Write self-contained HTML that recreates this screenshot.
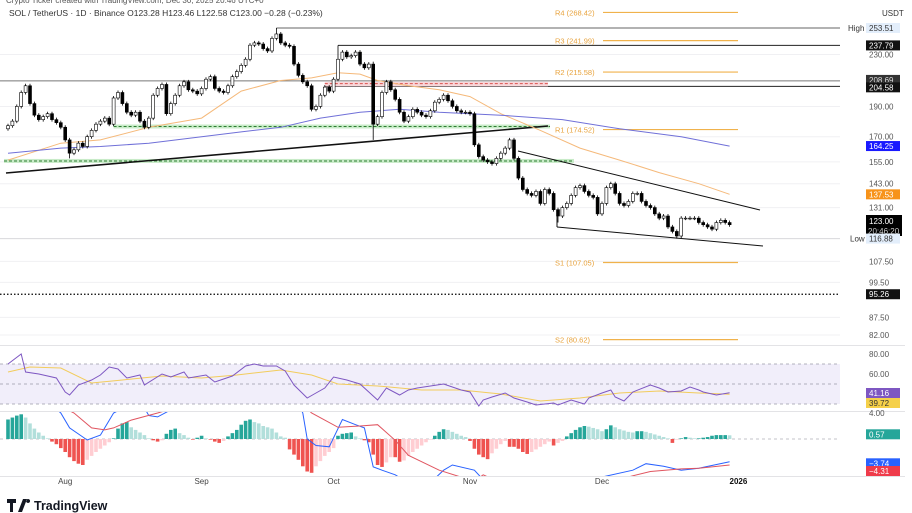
<!DOCTYPE html>
<html><head><meta charset="utf-8"><style>
html,body{margin:0;padding:0;background:#fff;}
svg{display:block;font-family:"Liberation Sans",sans-serif;}
</style></head><body>
<svg id="chart" width="912" height="513" viewBox="0 0 912 513" xmlns="http://www.w3.org/2000/svg">
<text x="6" y="3" font-size="8" fill="#555">Crypto Ticker created with TradingView.com, Dec 30, 2025 20:46 UTC+0</text>
<text x="9" y="16" font-size="8.5" fill="#333">SOL / TetherUS · 1D · Binance  O123.28  H123.46  L122.58  C123.00  −0.28 (−0.23%)</text>
<g id="grid"></g>
<g id="levels"></g>
<g id="ma"></g>
<g id="candles"></g>
<g id="rsi"></g>
<g id="macd"></g>
<g id="axis"></g>
<g id="xaxis"></g>
<g>
<path d="M7 499h9v4h-3v9h-3v-9h-3z M18 512l5-13h4l-5 13z M28 499a2 2 0 1 0 0.1 0z" fill="#131722"/>
<text x="34" y="510" font-size="12.5" font-weight="bold" fill="#131722">TradingView</text>
</g>
</svg>
<script>
const closes=[177,180,190,200,205,192,184,181,183,185,181,179,176,168,160,162,166,164,170,174,178,180,182,178,196,200,192,186,184,186,180,176,182,198,203,206,185,192,198,205,208,202,201,199,203,210,212,203,201,200,205,212,216,221,226,238,240,239,235,233,244,248,240,238,237,222,213,208,205,188,190,198,204,201,210,226,232,228,229,232,222,219,222,178,183,200,208,202,195,186,180,183,188,186,184,183,187,193,195,198,194,190,187,186,186,185,165,158,156,155,154,157,160,163,168,157,146,140,138,137,139,133,140,138,130,127,131,133,137,141,142,139,137,136,128,133,141,143,138,133,132,134,138,138,134,132,131,128,126,127,122,120,118,126,126,126,126,124,123,122,121,124,125,124,123];
const firstOpen=175;
const wickHighIdx=[61,75,83];
const wickHighVal=[253.51,237.79,224];
const wickLowIdx=[83,14,152,125];
const wickLowVal=[168,157,116.88,124];
const ma50Idx=[0,12,21,32,44,53,62,69,75,80,84,91,98,105,112,121,130,139,148,157,164];
const ma50Val=[156,166,168,176,182,201,209,211,215,214,209,205,202,197,185,174,163,156,149,143,137.53];
const ma200Idx=[0,12,21,32,44,53,62,71,80,89,98,105,112,126,139,153,164];
const ma200Val=[160,163,164,166,170,173,176,182,186,188,186,185,184,181,175,170,164.25];
const rsiIdx=[0,3,4,7,11,13,14,16,19,21,23,25,27,30,31,35,37,40,41,45,47,51,54,56,58,61,63,65,68,70,72,74,77,80,84,86,89,91,93,99,103,105,107,108,110,113,115,118,120,124,125,128,131,132,135,137,138,140,142,146,148,150,153,155,157,158,161,164];
const rsiVal=[70,80,62,60,56,42,39,49,54,59,67,65,56,59,49,60,57,62,56,59,52,58,68,70,68,68,63,49,36,41,46,57,54,50,34,46,39,44,46,50,44,42,28,34,37,41,36,32,29,31,29,34,30,36,41,44,37,33,42,49,46,42,43,47,44,42,39,41.16];
const rsiMaIdx=[0,5,12,19,26,35,44,52,62,69,75,84,94,103,112,121,130,139,148,157,164];
const rsiMaVal=[62,67,66,51,54,58,56,59,64,59,50,48,44,44,40,33,36,41,43,41,39.72];
const hist=[3,3.3,3.6,3.8,3.3,2.4,1.6,1,0.5,0.1,-0.4,-0.8,-1.4,-2,-2.8,-3.4,-3.8,-4,-3.2,-2.6,-2,-1.5,-1,-0.5,0.1,1.6,2.4,2.6,1.8,1.4,1,0.6,0.1,-0.2,-0.4,-0.2,0.8,1.4,1.6,0.9,0.6,0.2,-0.1,0.2,0.5,0.1,-0.1,-0.4,-0.6,-0.3,0.4,0.9,1.4,2.2,2.8,3,2.6,2.4,2,1.8,1.6,1,0.4,0.2,-1.6,-2.4,-3.2,-4.2,-5,-5.2,-4.2,-3.4,-2.6,-2,-1.4,0.5,0.8,0.9,1,0.4,0.1,-0.2,-0.5,-2.4,-4,-4.3,-3.6,-2.8,-2.8,-3.5,-3.3,-2.6,-2,-1.5,-1,-0.5,-0.1,0.5,1.1,1.5,1.4,1.1,0.8,0.5,0.3,-0.3,-1.5,-2.4,-2.8,-3.1,-2.2,-1.5,-0.8,-0.3,-1.2,-1.2,-1.5,-2,-2.3,-2,-1.6,-1.2,-0.8,-0.4,-1,-0.6,-0.3,0.4,0.9,1.4,1.8,2,1.9,1.7,1.5,1.2,1.5,2.1,1.8,1.5,1.3,1.1,1,1.2,1.2,1.1,0.9,0.7,0.5,0.3,0.1,-0.6,-0.1,0.1,0.3,0.2,0.1,0.1,0.2,0.3,0.5,0.6,0.6,0.6,0.57];
const macdIdx=[0,7,12,14,18,21,24,30,32,34,44,55,64,67,68,70,73,76,79,81,83,85,88,94,99,101,106,109,116,125,134,142,145,149,153,157,164];
const macdVal=[9,7,4,1.7,-0.15,0.6,4,6,3.6,3.4,7,10,8,4,0,-1,-1.2,3,2.2,1.7,-4.3,-4.8,-5.5,-8,-4.8,-4,-4.8,-7,-9,-8,-6,-4.8,-3.8,-4.2,-4.8,-4.5,-3.5];
const sigIdx=[0,12,15,19,22,24,28,34,44,57,66,69,75,80,84,88,91,98,106,108,116,134,146,153,157,164];
const sigVal=[8,5,4,1.7,1.4,1.7,2.9,4,6,8,6,4,1.8,2,2.2,-0.2,-2.5,-4.8,-6.5,-5.5,-8,-7,-5,-4.6,-4.5,-4];
const priceTicks=["230.00","190.00","170.00","155.00","143.00","131.00","107.50","99.50","87.50","82.00"];
const pivotNames=["R4","R3","R2","R1","S1","S2"];
const pivotVals=[268.42,241.99,215.58,174.52,107.05,80.62];
const monthLabels=["Aug","Sep","Oct","Nov","Dec","2026"];
const monthIdx=[13,44,74,105,135,166];

const NS="http://www.w3.org/2000/svg";
function mk(tag,attrs,parent,txt){const e=document.createElementNS(NS,tag);for(const k in attrs)e.setAttribute(k,attrs[k]);if(txt!==undefined)e.textContent=txt;parent.appendChild(e);return e;}
const X=i=>8+4.4*i;
const LTOP=Math.log(253.51);
const Y=p=>28+(LTOP-Math.log(p))*272;
const RY=v=>434-v;
const MY=v=>439-v*6.5;
const G=id=>document.getElementById(id);
const grid=G('grid'),lev=G('levels'),ma=G('ma'),cg=G('candles'),rg=G('rsi'),mg=G('macd'),ax=G('axis'),xg=G('xaxis');

priceTicks.forEach(t=>{const l=mk('line',{x1:0,x2:840,y1:Y(+t),y2:Y(+t),stroke:'#f0f0f3','stroke-width':1},grid);

});
mk('line',{x1:0,x2:905,y1:345.5,y2:345.5,stroke:'#e3e3e6'},grid);
mk('line',{x1:0,x2:905,y1:411.5,y2:411.5,stroke:'#e3e3e6'},grid);
mk('line',{x1:0,x2:905,y1:476.5,y2:476.5,stroke:'#e3e3e6'},grid);

function hl(x1,x2,p,stroke,w,dash,name){const e=mk('line',{x1:x1,x2:x2,y1:Y(p),y2:Y(p),stroke:stroke,'stroke-width':w},lev);if(dash)e.setAttribute('stroke-dasharray',dash);

return e;}
hl(0,840,116.88,'#d8d8dc',1,null,'low-line');
hl(0,840,95.26,'#000',1.2,'1.5 2','level-95-26');
hl(X(61),840,253.51,'#666',1,null,'high-line');
hl(X(75),840,237.79,'#222',1,null,'level-237-79');
hl(0,840,208.69,'#777',1,null,'level-208-69');
hl(X(72),840,204.58,'#222',1,null,'level-204-58');
const rz=mk('rect',{x:X(72),y:Y(208.69)+1,width:548-X(72),height:Y(204.58)-Y(208.69)-1,fill:'#f8d7da'},lev);


hl(X(72),548,206.6,'#d9534f',1,'3 2','resistance-zone-mid');
const gz1=mk('rect',{x:X(24),y:Y(176.5)-2,width:550-X(24),height:4,fill:'#c8ebc8'},lev);


hl(X(24),550,176.5,'#2e7d32',1,'3 2','support-zone-upper-line');
const gz2=mk('rect',{x:4,y:Y(155.5)-2,width:570,height:4,fill:'#c8ebc8'},lev);


hl(4,574,155.5,'#2e7d32',1,'3 2','support-zone-lower-line');
function tl(x1,y1,x2,y2,w,name){const e=mk('line',{x1:x1,y1:y1,x2:x2,y2:y2,stroke:'#111','stroke-width':w},lev);

}
tl(6,173,548,126,1.6,'ascending-trendline');
tl(518,151,760,210,1,'channel-upper');
tl(557,227,763,246,1,'channel-lower');
tl(557,210,557,227,1,'channel-start');
pivotNames.forEach((n,k)=>{const y=Y(pivotVals[k]);
const t=mk('text',{x:555,y:y+3,'font-size':7.5,fill:'#e8a33d'},lev,n+' ('+pivotVals[k].toFixed(2)+')');


const l=mk('line',{x1:603,x2:738,y1:y,y2:y,stroke:'#f0b24c','stroke-width':1.2},lev);

});

function poly(idx,vals,yf,stroke,w,parent,name){const d=idx.map((i,k)=>(k?'L':'M')+X(i).toFixed(1)+' '+yf(vals[k]).toFixed(1)).join(' ');
const e=mk('path',{d:d,fill:'none',stroke:stroke,'stroke-width':w},parent);

return e;}
poly(ma50Idx,ma50Val,Y,'#f5b97a',1,ma,'ma50-line');
poly(ma200Idx,ma200Val,Y,'#7070d8',1,ma,'ma200-line');

closes.forEach((c,i)=>{const o=i?closes[i-1]:firstOpen;const x=X(i);
let hi=Math.max(o,c),lo=Math.min(o,c);
let yh=Y(hi)-2,yl=Y(lo)+2;
const hk=wickHighIdx.indexOf(i);if(hk>=0)yh=Math.min(yh,Y(wickHighVal[hk]));
const lk=wickLowIdx.indexOf(i);if(lk>=0)yl=Math.max(yl,Y(wickLowVal[lk]));
const w=mk('line',{x1:x,x2:x,y1:yh,y2:yl,stroke:'#000','stroke-width':0.8},cg);


const bt=Y(hi),bb=Y(lo);
const b=mk('rect',{x:x-1.5,y:bt,width:3,height:Math.max(0.8,bb-bt),fill:c>=o?'#fff':'#000',stroke:'#000','stroke-width':0.6},cg);

});

const band=mk('rect',{x:0,y:RY(70),width:840,height:40,fill:'#f1eefa'},rg);


[70,50,30].forEach(v=>{const l=mk('line',{x1:0,x2:840,y1:RY(v),y2:RY(v),stroke:'#9a9aa8','stroke-width':0.7,'stroke-dasharray':'3 3'},rg);

});
poly(rsiMaIdx,rsiMaVal,RY,'#f2cc5c',1,rg,'rsi-ma-line');
poly(rsiIdx,rsiVal,RY,'#7e57c2',1,rg,'rsi-line');

mk('clipPath',{id:'mclip'},mg);
mk('rect',{x:0,y:412,width:840,height:64},G('mclip'));
const mz=mk('line',{x1:0,x2:840,y1:MY(0),y2:MY(0),stroke:'#b0b0b8','stroke-width':0.7,'stroke-dasharray':'3 3'},mg);


const mh=mk('g',{'clip-path':'url(#mclip)'},mg);
hist.forEach((v,i)=>{const p=i?hist[i-1]:v;let col;
if(v>=0)col=v>=p?'#26a69a':'#b2dfdb';else col=v<=p?'#ef5350':'#ffcdd2';
const y0=MY(0),y1=MY(v);
const r=mk('rect',{x:X(i)-1.8,y:Math.min(y0,y1),width:3.6,height:Math.abs(y1-y0),fill:col},mh);

});
poly(macdIdx,macdVal,MY,'#2962ff',1,mh,'macd-line');
poly(sigIdx,sigVal,MY,'#e05560',1,mh,'signal-line');

function tx(x,y,s,fill,name,size,anchor){const t=mk('text',{x:x,y:y,'font-size':size||8,fill:fill,'text-anchor':anchor||'start'},ax,s);

return t;}
function box(y,s,bg,fg,name,h){const hh=h||10;const r=mk('rect',{x:866,y:y-hh/2,width:34,height:hh,fill:bg},ax);


tx(869,y+3,s,fg,name);}
tx(882,16,'USDT','#333','axis-currency');
priceTicks.forEach(t=>tx(869,Y(+t)+3,t,'#555','price-tick'));
box(Y(253.51),'253.51','#e3eefb','#333','high-price');
tx(848,Y(253.51)+3,'High','#333','high-label');
box(Y(237.79),'237.79','#111','#fff','level-237-79-label');
box(Y(208.69)-1,'208.69','#333','#ddd','level-208-69-label');
box(Y(204.58)+1,'204.58','#111','#fff','level-204-58-label');
box(Y(164.25),'164.25','#1a1aff','#fff','ma200-value');
box(Y(137.53),'137.53','#f7931a','#fff','ma50-value');
const lp=mk('rect',{x:866,y:215,width:36,height:21,fill:'#000'},ax);


tx(869,224,'123.00','#fff','last-price');
tx(868,234,'20:46:20','#ccc','countdown');
box(Y(116.88),'116.88','#e3eefb','#333','low-price');
tx(850,Y(116.88)+3,'Low','#333','low-label');
box(Y(95.26),'95.26','#111','#fff','level-95-26-label');
tx(869,RY(80)+3,'80.00','#555','rsi-tick');
tx(869,RY(60)+3,'60.00','#555','rsi-tick');
box(393,'41.16','#7e57c2','#fff','rsi-value');
box(403,'39.72','#f5d04a','#333','rsi-ma-value');
tx(869,MY(4)+3,'4.00','#555','macd-tick');
box(MY(0.57)-1,'0.57','#26a69a','#fff','histogram-value');
box(MY(-3.74),'−3.74','#2962ff','#fff','macd-value');
box(MY(-4.31)+4,'−4.31','#ef3b4a','#fff','signal-value');

monthLabels.forEach((m,k)=>{const t=mk('text',{x:X(monthIdx[k]),y:484,'font-size':8,fill:m==='2026'?'#111':'#444','font-weight':m==='2026'?'bold':'normal','text-anchor':'middle'},xg,m);

});
</script>
</body></html>
